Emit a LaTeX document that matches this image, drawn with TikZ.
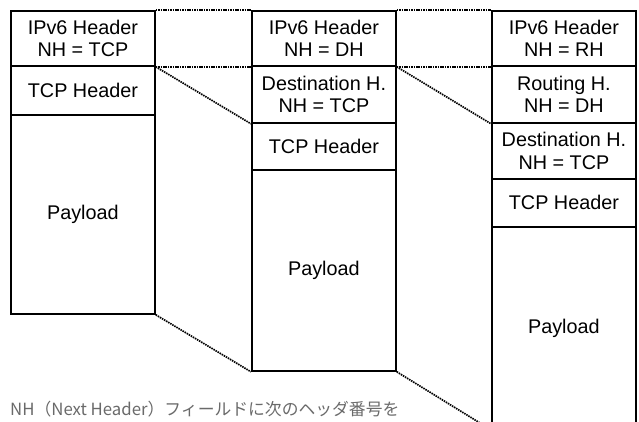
\documentclass[tikz,border=0pt]{standalone}
\usepackage{fontspec}
\setmainfont{Liberation Sans}
\newfontfamily\cjk{Noto Sans CJK JP}
\definecolor{notegray}{HTML}{6A6A6A}
\begin{document}
\begin{tikzpicture}[x=1pt,y=-1pt,
  cell/.style={draw=black,line width=1.8pt,rectangle,anchor=north west,inner sep=0pt,
    minimum width=144pt,align=center,font=\fontsize{19.8}{22.5}\selectfont},
  link/.style={line width=1.7pt,dash pattern=on 1.5pt off 0.9pt},
  note/.style={anchor=west,inner sep=0pt,text=notegray,font=\cjk\fontsize{16.8}{20}\selectfont}]
\clip (0,0) rectangle (639,421);
% column 1
\node[cell,minimum height=55pt] (a1) at (10,10) {IPv6 Header\\NH = TCP};
\node[cell,minimum height=49pt] (a2) at (10,65) {TCP Header};
\node[cell,minimum height=199pt] (a3) at (10,114) {Payload};
% column 2
\node[cell,minimum height=55pt] (b1) at (251,10) {IPv6 Header\\NH = DH};
\node[cell,minimum height=57pt] (b2) at (251,65) {Destination H.\\NH = TCP};
\node[cell,minimum height=47pt] (b3) at (251,122) {TCP Header};
\node[cell,minimum height=201pt] (b4) at (251,169) {Payload};
% column 3
\node[cell,minimum height=55pt] (c1) at (491,10) {IPv6 Header\\NH = RH};
\node[cell,minimum height=57pt] (c2) at (491,65) {Routing H.\\NH = DH};
\node[cell,minimum height=56pt] (c3) at (491,122) {Destination H.\\NH = TCP};
\node[cell,minimum height=48pt] (c4) at (491,178) {TCP Header};
\node[cell,minimum height=202pt] (c5) at (491,226) {Payload};
% connectors
\draw[link] (a1.north east) -- (b1.north west);
\draw[link] (a1.south east) -- (b1.south west);
\draw[link] (a1.south east) -- (b2.south west);
\draw[link] (a3.south east) -- (b4.south west);
\draw[link] (b1.north east) -- (c1.north west);
\draw[link] (b1.south east) -- (c1.south west);
\draw[link] (b1.south east) -- (c2.south west);
\draw[link] (b4.south east) -- (c5.south west);
% note
\node[note] (n) at (10,409) {NH（Next Header）フィールドに次のヘッダ番号を};
\end{tikzpicture}
\end{document}
